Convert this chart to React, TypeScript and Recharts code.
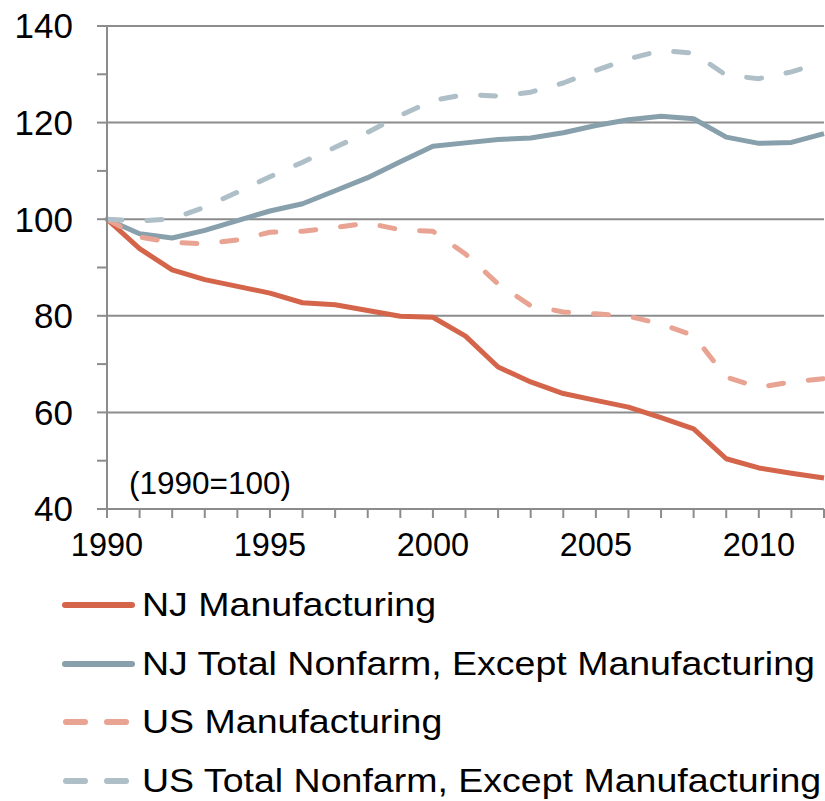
import React from 'react';
import { LineChart, Line, XAxis, YAxis, CartesianGrid } from 'recharts';

const years = [1990, 1991, 1992, 1993, 1994, 1995, 1996, 1997, 1998, 1999, 2000, 2001, 2002, 2003, 2004, 2005, 2006, 2007, 2008, 2009, 2010, 2011, 2012];
const njManufacturing = [100, 93.9, 89.5, 87.5, 86.1, 84.7, 82.7, 82.3, 81.1, 79.9, 79.7, 75.8, 69.4, 66.3, 63.9, 62.5, 61.1, 58.9, 56.6, 50.4, 48.5, 47.4, 46.4];
const njNonfarm = [100, 97.0, 96.1, 97.7, 99.7, 101.7, 103.2, 105.9, 108.6, 111.9, 115.1, 115.8, 116.5, 116.8, 117.9, 119.4, 120.6, 121.3, 120.8, 117.0, 115.7, 115.9, 117.7];
const usManufacturing = [100, 96.3, 95.2, 94.9, 95.7, 97.3, 97.5, 98.3, 99.2, 97.8, 97.5, 92.8, 86.6, 82.1, 80.8, 80.4, 79.9, 78.3, 75.9, 67.3, 65.2, 66.3, 67.0];
const usNonfarm = [100, 99.6, 100.1, 102.5, 105.6, 108.8, 111.8, 114.9, 118.0, 121.5, 124.6, 125.8, 125.5, 126.3, 128.2, 130.8, 133.2, 134.9, 134.4, 129.8, 129.1, 130.5, 132.6];

const yTicks = [40, 50, 60, 70, 80, 90, 100, 110, 120, 130, 140];
const yGrid = [60, 80, 100, 120, 140];

const seriesInfo = [
  { key: 'njManufacturing', name: 'NJ Manufacturing', color: '#D4654A', dashed: false },
  { key: 'njNonfarm', name: 'NJ Total Nonfarm, Except Manufacturing', color: '#87A0AC', dashed: false },
  { key: 'usManufacturing', name: 'US Manufacturing', color: '#E8A392', dashed: true },
  { key: 'usNonfarm', name: 'US Total Nonfarm, Except Manufacturing', color: '#AEBFC7', dashed: true },
];

const data = years.map((y, i) => ({
  year: y,
  njManufacturing: njManufacturing[i],
  njNonfarm: njNonfarm[i],
  usManufacturing: usManufacturing[i],
  usNonfarm: usNonfarm[i],
}));

const FONT = '"Liberation Sans", Arial, sans-serif';
const GRID = '#8C8C8C';

export default function App() {
  return (
    <div style={{ position: 'absolute', left: 0, top: 0, width: 825, height: 801, background: '#fff', fontFamily: FONT }}>
      <LineChart width={825} height={570} data={data} margin={{ top: 26, right: 1, left: 7, bottom: 11 }}>
        <CartesianGrid vertical={false} horizontalValues={yGrid} stroke={GRID} strokeWidth={2} />
        <XAxis
          dataKey="year"
          type="number"
          domain={[1990, 2012]}
          ticks={years}
          interval={0}
          tickFormatter={(v: number) => (v % 5 === 0 ? String(v) : '')}
          tickSize={9}
          tickMargin={15}
          height={50}
          axisLine={{ stroke: GRID, strokeWidth: 2 }}
          tickLine={{ stroke: GRID, strokeWidth: 2 }}
          tick={{ fill: '#000', fontSize: 32.5, fontFamily: FONT }}
        />
        <YAxis
          type="number"
          domain={[40, 140]}
          ticks={yTicks}
          interval={0}
          tickFormatter={(v: number) => (v % 20 === 0 ? String(v) : '')}
          tickSize={10}
          tickMargin={24}
          width={100}
          axisLine={{ stroke: GRID, strokeWidth: 2 }}
          tickLine={{ stroke: GRID, strokeWidth: 2 }}
          tick={{ fill: '#000', fontSize: 35, fontFamily: FONT }}
        />
        {seriesInfo.map((s) => (
          <Line
            key={s.key}
            type="linear"
            dataKey={s.key}
            name={s.name}
            stroke={s.color}
            strokeWidth={5}
            strokeDasharray={s.dashed ? '15 25' : undefined}
            strokeLinecap={s.dashed ? 'round' : 'butt'}
            strokeLinejoin="round"
            dot={false}
            activeDot={false}
            isAnimationActive={false}
          />
        ))}
      </LineChart>
      <div style={{ position: 'absolute', left: 129, top: 465, fontSize: 31.5, color: '#000', lineHeight: '36px' }}>(1990=100)</div>
      {seriesInfo.map((s, i) => (
        <div key={s.key} style={{ position: 'absolute', left: 60, top: 605 + i * 58.7 - 20, height: 40, display: 'flex', alignItems: 'center', whiteSpace: 'nowrap' }}>
          <svg width={80} height={40} style={{ display: 'block' }}>
            {s.dashed ? (
              <g stroke={s.color} strokeWidth={6} strokeLinecap="round">
                <line x1={6} y1={20} x2={25} y2={20} />
                <line x1={47} y1={20} x2={66} y2={20} />
              </g>
            ) : (
              <line x1={5} y1={20} x2={72} y2={20} stroke={s.color} strokeWidth={6} strokeLinecap="round" />
            )}
          </svg>
          <span style={{ display: 'inline-block', fontSize: 33.5, color: '#000', marginLeft: 2, lineHeight: '40px', transform: 'scaleX(1.12)', transformOrigin: 'left center' }}>{s.name}</span>
        </div>
      ))}
    </div>
  );
}
